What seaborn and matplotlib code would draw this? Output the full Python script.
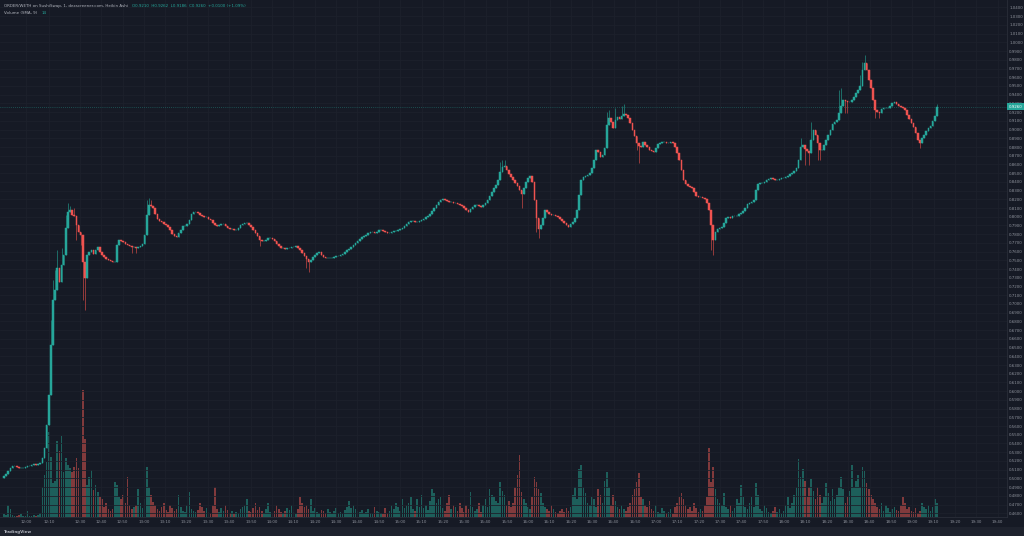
import numpy as np
import pandas as pd
import matplotlib
matplotlib.use("Agg")
import matplotlib.pyplot as plt
import seaborn as sns

# colores estilo TradingView oscuro
BG = "#161a25"
GRID = "#1d212c"
UP = "#26a69a"
DOWN = "#ef5350"
VOL_UP = "#1d5f5b"
VOL_DOWN = "#813a3c"
TXT = "#8e929c"

# cierres Heikin Ashi (velas de 1 minuto)
closes = [
    0.503, 0.505, 0.508, 0.512, 0.514, 0.514, 0.513, 0.512, 0.512, 0.512,
    0.513, 0.514, 0.514, 0.515, 0.517, 0.515, 0.517, 0.518, 0.523, 0.535,
    0.561, 0.596, 0.653, 0.705, 0.716, 0.741, 0.725, 0.745, 0.756, 0.787,
    0.806, 0.808, 0.802, 0.801, 0.791, 0.783, 0.779, 0.748, 0.730, 0.756,
    0.760, 0.762, 0.757, 0.762, 0.765, 0.760, 0.756, 0.754, 0.752, 0.750,
    0.749, 0.748, 0.748, 0.768, 0.773, 0.772, 0.771, 0.769, 0.768, 0.766,
    0.765, 0.765, 0.764, 0.765, 0.766, 0.769, 0.779, 0.802, 0.813, 0.812,
    0.810, 0.803, 0.797, 0.795, 0.794, 0.792, 0.791, 0.788, 0.785, 0.780,
    0.778, 0.777, 0.781, 0.785, 0.789, 0.789, 0.792, 0.796, 0.803, 0.806,
    0.806, 0.804, 0.802, 0.801, 0.800, 0.800, 0.798, 0.796, 0.793, 0.791,
    0.789, 0.791, 0.792, 0.792, 0.789, 0.787, 0.786, 0.786, 0.785, 0.785,
    0.787, 0.791, 0.792, 0.793, 0.793, 0.791, 0.788, 0.785, 0.781, 0.778,
    0.773, 0.772, 0.772, 0.773, 0.776, 0.776, 0.775, 0.772, 0.769, 0.766,
    0.764, 0.764, 0.763, 0.764, 0.764, 0.765, 0.765, 0.766, 0.764, 0.762,
    0.758, 0.755, 0.752, 0.748, 0.750, 0.754, 0.756, 0.758, 0.760, 0.756,
    0.754, 0.753, 0.753, 0.753, 0.753, 0.754, 0.755, 0.755, 0.756, 0.757,
    0.760, 0.762, 0.763, 0.765, 0.768, 0.770, 0.772, 0.775, 0.777, 0.778,
    0.779, 0.781, 0.783, 0.783, 0.781, 0.783, 0.785, 0.785, 0.784, 0.783,
    0.781, 0.781, 0.783, 0.784, 0.784, 0.785, 0.786, 0.787, 0.789, 0.792,
    0.794, 0.795, 0.795, 0.794, 0.794, 0.795, 0.796, 0.798, 0.800, 0.801,
    0.803, 0.807, 0.810, 0.813, 0.817, 0.819, 0.820, 0.819, 0.818, 0.817,
    0.817, 0.816, 0.816, 0.815, 0.813, 0.812, 0.810, 0.808, 0.806, 0.809,
    0.811, 0.813, 0.813, 0.812, 0.811, 0.813, 0.816, 0.819, 0.824, 0.828,
    0.833, 0.836, 0.842, 0.851, 0.857, 0.858, 0.854, 0.849, 0.846, 0.842,
    0.839, 0.835, 0.831, 0.826, 0.833, 0.840, 0.845, 0.847, 0.840, 0.819,
    0.799, 0.786, 0.791, 0.799, 0.808, 0.806, 0.803, 0.802, 0.802, 0.801,
    0.800, 0.797, 0.795, 0.793, 0.791, 0.788, 0.792, 0.794, 0.799, 0.808,
    0.825, 0.842, 0.846, 0.847, 0.848, 0.850, 0.856, 0.865, 0.877, 0.874,
    0.869, 0.871, 0.879, 0.905, 0.913, 0.909, 0.902, 0.911, 0.914, 0.912,
    0.916, 0.918, 0.917, 0.913, 0.908, 0.900, 0.893, 0.885, 0.881, 0.880,
    0.886, 0.882, 0.880, 0.877, 0.875, 0.874, 0.879, 0.883, 0.885, 0.886,
    0.886, 0.885, 0.885, 0.886, 0.885, 0.880, 0.873, 0.865, 0.854, 0.842,
    0.838, 0.835, 0.834, 0.833, 0.828, 0.824, 0.823, 0.823, 0.822, 0.820,
    0.816, 0.808, 0.791, 0.773, 0.783, 0.786, 0.787, 0.788, 0.793, 0.799,
    0.800, 0.799, 0.801, 0.801, 0.801, 0.803, 0.804, 0.807, 0.810, 0.815,
    0.816, 0.817, 0.819, 0.831, 0.838, 0.839, 0.839, 0.840, 0.842, 0.843,
    0.845, 0.843, 0.842, 0.842, 0.843, 0.845, 0.845, 0.846, 0.847, 0.849,
    0.850, 0.853, 0.856, 0.865, 0.880, 0.882, 0.878, 0.875, 0.873, 0.888,
    0.900, 0.894, 0.885, 0.877, 0.877, 0.882, 0.888, 0.894, 0.900, 0.906,
    0.909, 0.911, 0.919, 0.927, 0.934, 0.933, 0.932, 0.932, 0.934, 0.937,
    0.942, 0.945, 0.950, 0.968, 0.976, 0.968, 0.957, 0.948, 0.934, 0.922,
    0.920, 0.919, 0.924, 0.925, 0.925, 0.925, 0.927, 0.931, 0.932, 0.929,
    0.927, 0.926, 0.925, 0.922, 0.917, 0.912, 0.908, 0.903, 0.896, 0.888,
    0.885, 0.890, 0.894, 0.898, 0.902, 0.904, 0.910, 0.916, 0.926,
]
first_open = 0.500

# volumen por vela (miles)
volumes = [
    3, 2, 12, 8, 2, 1, 1, 2, 3, 1,
    1, 6, 1, 1, 2, 1, 2, 4, 30, 42,
    55, 84, 60, 34, 36, 75, 65, 80, 45, 59,
    52, 49, 45, 50, 59, 49, 37, 126, 77, 32,
    40, 47, 27, 32, 25, 20, 18, 10, 14, 8,
    6, 8, 35, 32, 20, 18, 22, 14, 40, 12,
    8, 10, 12, 28, 14, 9, 18, 50, 30, 22,
    15, 12, 8, 6, 10, 14, 7, 5, 12, 9,
    6, 8, 22, 10, 6, 5, 12, 25, 8, 6,
    5, 7, 14, 10, 6, 9, 5, 4, 12, 30,
    8, 5, 9, 6, 12, 7, 4, 6, 3, 5,
    4, 8, 10, 12, 18, 6, 5, 9, 14, 7,
    10, 6, 4, 8, 14, 5, 3, 6, 12, 8,
    5, 4, 6, 9, 7, 12, 5, 3, 8, 20,
    14, 10, 12, 8, 18, 6, 9, 5, 4, 7,
    6, 4, 8, 5, 3, 6, 9, 4, 5, 3,
    7, 10, 16, 9, 12, 8, 6, 5, 7, 4,
    5, 8, 4, 3, 10, 6, 5, 4, 3, 9,
    4, 6, 12, 8, 14, 10, 6, 18, 9, 12,
    14, 20, 8, 6, 18, 10, 22, 9, 12, 7,
    16, 28, 24, 14, 18, 20, 9, 6, 14, 22,
    8, 12, 10, 6, 14, 9, 5, 12, 8, 25,
    10, 6, 8, 14, 5, 12, 18, 10, 28, 22,
    20, 16, 14, 35, 26, 22, 12, 16, 10, 14,
    30, 42, 62, 25, 18, 14, 10, 8, 20, 40,
    35, 28, 24, 14, 10, 8, 6, 12, 8, 5,
    4, 6, 8, 5, 9, 6, 10, 22, 30, 18,
    48, 52, 30, 24, 14, 12, 20, 18, 10, 28,
    22, 14, 36, 45, 30, 12, 22, 16, 10, 8,
    12, 8, 6, 10, 14, 22, 28, 35, 44, 20,
    18, 12, 10, 16, 8, 6, 12, 5, 4, 9,
    6, 4, 5, 8, 3, 10, 14, 20, 24, 18,
    12, 8, 10, 6, 14, 9, 5, 8, 6, 12,
    20, 68, 35, 50, 28, 18, 14, 12, 24, 10,
    8, 12, 6, 9, 18, 14, 32, 20, 10, 8,
    14, 20, 10, 34, 22, 8, 6, 12, 9, 5,
    4, 6, 10, 5, 8, 3, 6, 12, 20, 9,
    14, 22, 30, 58, 40, 48, 36, 20, 30, 38,
    26, 18, 30, 22, 14, 20, 34, 24, 16, 28,
    18, 22, 30, 40, 28, 14, 20, 26, 52, 30,
    36, 42, 30, 50, 46, 34, 28, 22, 18, 14,
    10, 8, 14, 6, 12, 9, 5, 8, 10, 7,
    6, 12, 20, 14, 8, 10, 6, 5, 9, 4,
    6, 14, 10, 8, 12, 6, 10, 18, 14,
]
assert len(closes) == len(volumes)

# mechas destacadas (indice de vela: precio)
wick_high = {
    22: 0.682, 23: 0.727, 24: 0.739, 25: 0.762, 27: 0.764, 29: 0.802,
    30: 0.816, 31: 0.812, 33: 0.810, 67: 0.819, 68: 0.822, 69: 0.819,
    233: 0.863, 234: 0.865, 235: 0.865, 283: 0.920, 284: 0.922,
    287: 0.925, 290: 0.927, 291: 0.929, 374: 0.890, 379: 0.909,
    392: 0.945, 393: 0.948, 402: 0.963, 403: 0.977, 404: 0.985,
    438: 0.929,
}
wick_low = {
    34: 0.773, 36: 0.768, 37: 0.705, 38: 0.693, 60: 0.758, 62: 0.758,
    120: 0.766, 142: 0.741, 143: 0.737, 243: 0.810, 250: 0.783,
    251: 0.776, 297: 0.877, 298: 0.862, 332: 0.762, 333: 0.756,
    376: 0.859, 378: 0.859, 382: 0.865, 383: 0.865, 395: 0.919,
    396: 0.919, 409: 0.913, 411: 0.913, 430: 0.879,
}

# etiquetas del eje de tiempo
time_labels = ["12:00", "12:10"] + [
    f"{(12 * 60 + 30 + 10 * k) // 60}:{(30 + 10 * k) % 60:02d}" for k in range(44)
]
time_pos = [10.3, 21.1] + [35.7 + 10.02 * k for k in range(44)]

price_ticks = np.round(np.arange(1.04, 0.455, -0.01), 2)

# tabla de velas
df = pd.DataFrame({"idx": np.arange(len(closes)), "close": closes, "vol": volumes})
df["open"] = [first_open] + closes[:-1]
df["dir"] = np.where(df["close"] >= df["open"], "up", "down")
df["body_lo"] = df[["open", "close"]].min(axis=1)
df["body_h"] = (df["close"] - df["open"]).abs()
df["high"] = [wick_high.get(i, max(o, c)) for i, o, c in zip(df.idx, df.open, df.close)]
df["low"] = [wick_low.get(i, min(o, c)) for i, o, c in zip(df.idx, df.open, df.close)]

sns.set_style("dark", rc={"axes.facecolor": BG, "figure.facecolor": BG})
plt.rcParams["font.family"] = ["DejaVu Sans"]

W, H = 1024, 536
fig = plt.figure(figsize=(W / 100, H / 100), dpi=100, facecolor=BG)
rect = [0, 19 / H, 1007 / W, 517 / H]
xlim = (-1.88, 470.9)

# volumen debajo
ax_v = fig.add_axes(rect, zorder=0)
ax_v.set_facecolor(BG)
sns.barplot(data=df, x="idx", y="vol", hue="dir", palette={"up": VOL_UP, "down": VOL_DOWN},
            native_scale=True, dodge=False, width=0.75, saturation=1, errorbar=None,
            legend=False, linewidth=0, ax=ax_v)
ax_v.set_xlim(*xlim)
ax_v.set_ylim(0, max(volumes) * 517 / 127)
ax_v.set_axis_off()

# velas encima
ax = fig.add_axes(rect, zorder=1)
ax.patch.set_visible(False)
ax.set_xlim(*xlim)
ax.set_ylim(0.4557, 1.0486)
for p in price_ticks:
    ax.axhline(p, color=GRID, lw=0.6, zorder=0)
for t in time_pos:
    ax.axvline(t, color=GRID, lw=0.6, zorder=0)

colors = np.where(df["dir"] == "up", UP, DOWN)
wick_cols = np.where(df["dir"] == "up", "#1f7a72", "#a8403f")
ax.vlines(df["idx"], df["low"], df["high"], colors=wick_cols, lw=0.6, zorder=2)
ax.bar(df["idx"], df["body_h"], bottom=df["body_lo"], width=0.75, color=colors,
       edgecolor=colors, linewidth=0.35, zorder=3)

last = closes[-1]
ax.axhline(last, color=UP, lw=0.5, ls=(0, (1, 2)), alpha=0.7, zorder=1)

ax.yaxis.tick_right()
ax.set_yticks(price_ticks)
ax.set_yticklabels([f"{p:.4f}" for p in price_ticks])
ax.set_xticks(time_pos)
ax.set_xticklabels(time_labels)
ax.tick_params(axis="both", length=0, labelsize=2.9, colors=TXT)
ax.tick_params(axis="y", pad=1.5)
ax.tick_params(axis="x", pad=2.5)
for s in ["top", "left"]:
    ax.spines[s].set_visible(False)
for s in ["right", "bottom"]:
    ax.spines[s].set_color("#2a2e39")
    ax.spines[s].set_linewidth(0.6)

ax.annotate(f"{last:.4f}", xy=(1.0, last), xycoords=("axes fraction", "data"),
            xytext=(1.0, 0), textcoords="offset points", ha="left", va="center",
            fontsize=2.9, color="white",
            bbox=dict(boxstyle="square,pad=0.35", fc=UP, ec="none"), zorder=5)

# barra inferior y logo
fig.patches.append(plt.Rectangle((0, 0), 1, 9 / H, transform=fig.transFigure,
                                 facecolor="#1e222d", edgecolor="none", zorder=-1))
fig.text(4 / W, 4.5 / H, "TradingView", fontsize=2.9, color="#b2b5be", va="center",
         fontweight="bold")

# cabecera
t1 = fig.text(4 / W, 1 - 6 / H, "ORDER/WETH on SushiSwap, 1, dexscreener.com, Heikin Ashi",
              fontsize=2.9, color="#b2b5be", va="center")
ax.annotate("O0.9210  H0.9262  L0.9186  C0.9260  +0.0100 (+1.09%)", xy=(1, 0),
            xycoords=t1, xytext=(3, 0), textcoords="offset points", va="bottom",
            fontsize=2.9, color=UP, annotation_clip=False)
t2 = fig.text(4 / W, 1 - 13 / H, "Volume (SMA, 9)", fontsize=2.9, color="#b2b5be", va="center")
ax.annotate("14", xy=(1, 0), xycoords=t2, xytext=(3, 0), textcoords="offset points",
            va="bottom", fontsize=2.9, color=UP, annotation_clip=False)

fig.savefig("out.png", dpi=100, facecolor=BG)
